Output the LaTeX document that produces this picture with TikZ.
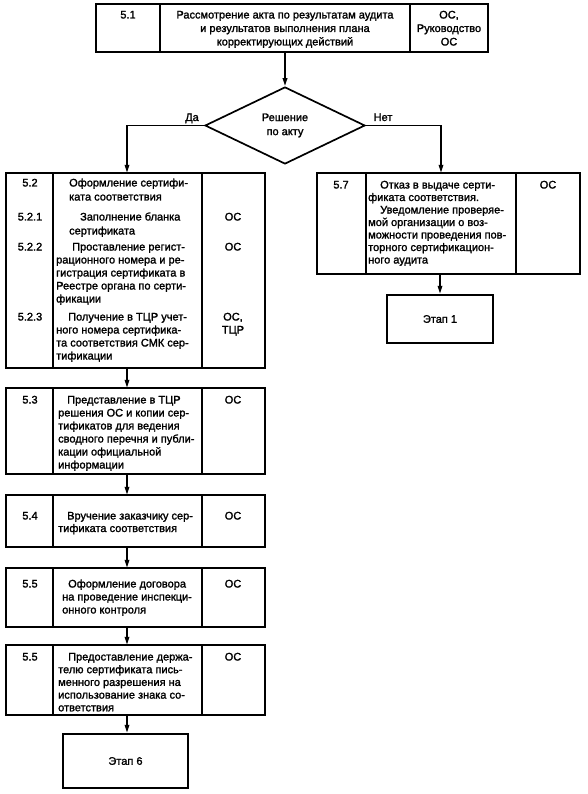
\documentclass[tikz,border=0pt]{standalone}
\usepackage{fontspec}
\setmainfont{Liberation Sans}
\newfontfamily\hv{Liberation Sans}[FakeBold=1.6]
\usetikzlibrary{arrows.meta,shapes.geometric}
\begin{document}
\begin{tikzpicture}[x=1pt,y=-1pt,
  frame/.style={line width=2.4pt},
  div/.style={line width=1.7pt},
  flow/.style={line width=1.7pt,-{Triangle[length=8pt,width=4.5pt]}},
  txt/.style={inner sep=0pt,align=left,font=\hv\fontsize{11}{13}\selectfont},
  ctxt/.style={inner sep=0pt,align=center,font=\hv\fontsize{11}{13}\selectfont},
  holder/.style={draw=none,inner sep=0pt},
]
\useasboundingbox (0,0) rectangle (587,794);
% ---------- top box 5.1
\draw[frame] (96,4) rectangle (488,52);
\node[holder,minimum width=392pt,minimum height=48pt] (b51) at (292,28) {};
\draw[div] (160,4) -- (160,52) (410,4) -- (410,52);
\node[ctxt,anchor=base] (n51) at (128,18.5) {5.1};
\node[ctxt,anchor=base,font=\hv\fontsize{11}{13.5}\selectfont] (t51) at (285,45.5) {Рассмотрение акта по результатам аудита\\и результатов выполнения плана\\корректирующих действий};
\node[ctxt,anchor=base,font=\hv\fontsize{11}{13.5}\selectfont] (r51) at (449,45.5) {ОС,\\Руководство\\ОС};
% ---------- decision
\node[draw,line width=1.7pt,diamond,aspect=2.08,minimum width=160pt,minimum height=77pt,inner sep=0pt,ctxt,font=\hv\fontsize{11}{14}\selectfont] (dec) at (285,125.5) {Решение\\по акту};
\node[ctxt,anchor=base] (yes) at (192,121) {Да};
\node[ctxt,anchor=base] (no) at (383,121) {Нет};
% ---------- box 5.2
\draw[frame] (6,173) rectangle (265,368);
\node[holder,minimum width=259pt,minimum height=195pt] (b52) at (135.5,270.5) {};
\draw[div] (53,173) -- (53,368) (202,173) -- (202,368);
\node[ctxt,anchor=base] (n52) at (30,186.5) {5.2};
\node[txt,anchor=base west,font=\hv\fontsize{11}{14}\selectfont] (t52) at (69,200.5) {Оформление сертифи-\\ката соответствия};
\node[ctxt,anchor=base] (n521) at (30,220.5) {5.2.1};
\node[txt,anchor=base west,font=\hv\fontsize{11}{14}\selectfont] (t521) at (69,234.5) {\hspace*{11pt}Заполнение бланка\\сертификата};
\node[ctxt,anchor=base] (r521) at (233,220.5) {ОС};
\node[ctxt,anchor=base] (n522) at (30,250.5) {5.2.2};
\node[txt,anchor=base west] (t522) at (56,302.5) {\hspace*{16pt}Проставление регист-\\рационного номера и ре-\\гистрация сертификата в\\Реестре органа по серти-\\фикации};
\node[ctxt,anchor=base] (r522) at (233,250.5) {ОС};
\node[ctxt,anchor=base] (n523) at (30,320.5) {5.2.3};
\node[txt,anchor=base west] (t523) at (56,359.5) {\hspace*{12pt}Получение в ТЦР учет-\\ного номера сертифика-\\та соответствия СМК сер-\\тификации};
\node[ctxt,anchor=base] (r523) at (233,333.5) {ОС,\\ТЦР};
% ---------- box 5.7
\draw[frame] (317,173) rectangle (580,274);
\node[holder,minimum width=263pt,minimum height=101pt] (b57) at (448.5,223.5) {};
\draw[div] (366,173) -- (366,274) (516,173) -- (516,274);
\node[ctxt,anchor=base] (n57) at (341,188.5) {5.7};
\node[txt,anchor=base west,font=\hv\fontsize{11}{12.5}\selectfont] (t57) at (368,263.5) {\hspace*{12pt}Отказ в выдаче серти-\\фиката соответствия.\\\hspace*{12pt}Уведомление проверяе-\\мой организации о воз-\\можности проведения пов-\\торного сертификацион-\\ного аудита};
\node[ctxt,anchor=base] (r57) at (548,188.5) {ОС};
% ---------- Etap 1
\node[draw,frame,minimum width=106pt,minimum height=48pt,inner sep=0pt,ctxt] (e1) at (440,319) {Этап 1};
% ---------- box 5.3
\draw[frame] (6,388) rectangle (265,474);
\node[holder,minimum width=259pt,minimum height=86pt] (b53) at (135.5,431) {};
\draw[div] (53,388) -- (53,474) (202,388) -- (202,474);
\node[ctxt,anchor=base] (n53) at (30,403.5) {5.3};
\node[txt,anchor=base west] (t53) at (58,468.5) {\hspace*{9pt}Представление в ТЦР\\решения ОС и копии сер-\\тификатов для ведения\\сводного перечня и публи-\\кации официальной\\информации};
\node[ctxt,anchor=base] (r53) at (233,403.5) {ОС};
% ---------- box 5.4
\draw[frame] (6,495) rectangle (265,547);
\node[holder,minimum width=259pt,minimum height=52pt] (b54) at (135.5,521) {};
\draw[div] (53,495) -- (53,547) (202,495) -- (202,547);
\node[ctxt,anchor=base] (n54) at (30,519.5) {5.4};
\node[txt,anchor=base west,font=\hv\fontsize{11}{12.5}\selectfont] (t54) at (58,532) {\hspace*{9pt}Вручение заказчику сер-\\тификата соответствия};
\node[ctxt,anchor=base] (r54) at (233,519.5) {ОС};
% ---------- box 5.5
\draw[frame] (6,568) rectangle (265,627);
\node[holder,minimum width=259pt,minimum height=59pt] (b55) at (135.5,597.5) {};
\draw[div] (53,568) -- (53,627) (202,568) -- (202,627);
\node[ctxt,anchor=base] (n55) at (30,587.5) {5.5};
\node[txt,anchor=base west] (t55) at (62,613.5) {\hspace*{6pt}Оформление договора\\на проведение инспекци-\\онного контроля};
\node[ctxt,anchor=base] (r55) at (233,587.5) {ОС};
% ---------- box 5.5 (second)
\draw[frame] (6,645) rectangle (265,715);
\node[holder,minimum width=259pt,minimum height=70pt] (b56) at (135.5,680) {};
\draw[div] (53,645) -- (53,715) (202,645) -- (202,715);
\node[ctxt,anchor=base] (n56) at (30,660.5) {5.5};
\node[txt,anchor=base west,font=\hv\fontsize{11}{12.7}\selectfont] (t56) at (58,711.3) {\hspace*{10pt}Предоставление держа-\\телю сертификата пись-\\менного разрешения на\\использование знака со-\\ответствия};
\node[ctxt,anchor=base] (r56) at (233,660.5) {ОС};
% ---------- Etap 6
\node[draw,frame,minimum width=125pt,minimum height=54pt,inner sep=0pt,ctxt] (e6) at (125.5,761) {Этап 6};
% ---------- connectors
\coordinate (cl) at (127,0);
\coordinate (cr) at (441,0);
\coordinate (cm) at (285,0);
\draw[flow] (b51.south -| cm) -- (dec.north);
\draw[flow] (dec.west) -| (b52.north -| cl);
\draw[flow] (dec.east) -| (b57.north -| cr);
\draw[flow] (b52.south -| cl) -- (b53.north -| cl);
\draw[flow] (b53.south -| cl) -- (b54.north -| cl);
\draw[flow] (b54.south -| cl) -- (b55.north -| cl);
\draw[flow] (b55.south -| cl) -- (b56.north -| cl);
\draw[flow] (b56.south -| cl) -- (e6.north -| cl);
\draw[flow] (b57.south -| e1) -- (e1.north);
\end{tikzpicture}
\end{document}
